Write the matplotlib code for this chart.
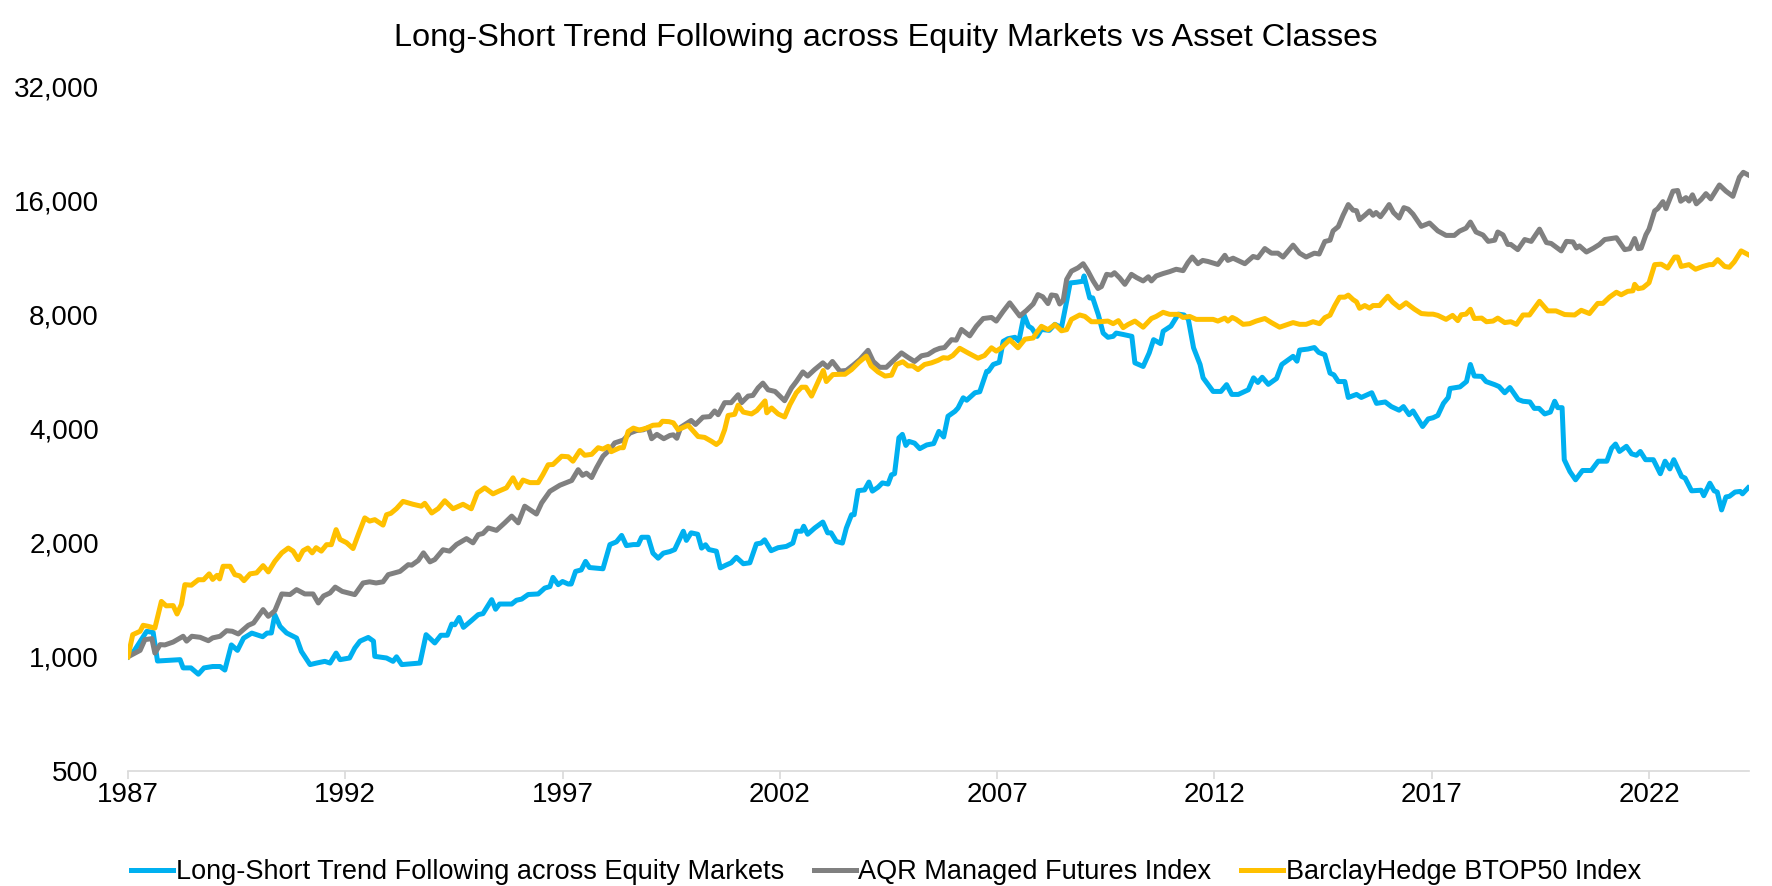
import matplotlib
matplotlib.use("Agg")
import matplotlib.pyplot as plt
import matplotlib.ticker as mticker

plt.rcParams["font.family"] = ["Liberation Sans", "DejaVu Sans"]

# Growth of 1,000 (decimal years)
trend_years = [
    1987.00, 1987.15, 1987.43, 1987.58, 1987.68, 1988.20, 1988.27, 1988.45, 1988.62, 1988.75,
    1988.95, 1989.12, 1989.23, 1989.38, 1989.52, 1989.66, 1989.85, 1990.10, 1990.20, 1990.30,
    1990.38, 1990.50, 1990.65, 1990.88, 1990.99, 1991.19, 1991.34, 1991.53, 1991.65, 1991.79,
    1991.88, 1992.10, 1992.22, 1992.34, 1992.53, 1992.65, 1992.68, 1992.95, 1993.10, 1993.18,
    1993.30, 1993.72, 1993.86, 1994.06, 1994.20, 1994.35, 1994.45, 1994.52, 1994.62, 1994.72,
    1994.90, 1995.06, 1995.17, 1995.37, 1995.46, 1995.55, 1995.83, 1995.94, 1996.06, 1996.21,
    1996.44, 1996.59, 1996.71, 1996.78, 1996.90, 1997.00, 1997.13, 1997.20, 1997.30, 1997.43,
    1997.53, 1997.62, 1997.93, 1998.09, 1998.24, 1998.36, 1998.47, 1998.63, 1998.74, 1998.82,
    1998.97, 1999.08, 1999.20, 1999.32, 1999.47, 1999.58, 1999.78, 1999.85, 1999.96, 2000.11,
    2000.20, 2000.29, 2000.37, 2000.54, 2000.63, 2000.76, 2000.88, 2001.00, 2001.16, 2001.31,
    2001.46, 2001.57, 2001.65, 2001.80, 2001.96, 2002.15, 2002.30, 2002.38, 2002.50, 2002.55,
    2002.64, 2002.80, 2002.99, 2003.10, 2003.18, 2003.30, 2003.44, 2003.53, 2003.65, 2003.71,
    2003.80, 2003.95, 2004.05, 2004.13, 2004.26, 2004.36, 2004.49, 2004.57, 2004.64, 2004.74,
    2004.82, 2004.90, 2004.97, 2005.10, 2005.22, 2005.38, 2005.54, 2005.66, 2005.77, 2005.87,
    2006.03, 2006.10, 2006.22, 2006.30, 2006.49, 2006.60, 2006.76, 2006.80, 2006.91, 2007.05,
    2007.14, 2007.25, 2007.41, 2007.50, 2007.62, 2007.72, 2007.80, 2007.92, 2008.02, 2008.20,
    2008.33, 2008.48, 2008.60, 2008.68, 2008.82, 2008.97, 2009.00, 2009.13, 2009.20, 2009.33,
    2009.44, 2009.55, 2009.67, 2009.74, 2009.90, 2010.10, 2010.17, 2010.36, 2010.50, 2010.60,
    2010.76, 2010.82, 2011.00, 2011.17, 2011.30, 2011.40, 2011.52, 2011.67, 2011.74, 2011.97,
    2012.15, 2012.28, 2012.40, 2012.55, 2012.78, 2012.90, 2013.00, 2013.10, 2013.24, 2013.43,
    2013.55, 2013.70, 2013.81, 2013.90, 2013.96, 2014.15, 2014.30, 2014.40, 2014.54, 2014.66,
    2014.75, 2014.85, 2015.00, 2015.08, 2015.27, 2015.38, 2015.62, 2015.73, 2015.93, 2016.07,
    2016.25, 2016.35, 2016.48, 2016.57, 2016.79, 2016.92, 2017.03, 2017.14, 2017.27, 2017.38,
    2017.42, 2017.65, 2017.80, 2017.89, 2017.98, 2018.15, 2018.25, 2018.45, 2018.55, 2018.68,
    2018.80, 2018.99, 2019.10, 2019.26, 2019.36, 2019.47, 2019.60, 2019.73, 2019.83, 2019.90,
    2020.00, 2020.05, 2020.18, 2020.31, 2020.47, 2020.67, 2020.83, 2021.03, 2021.14, 2021.23,
    2021.32, 2021.48, 2021.60, 2021.71, 2021.80, 2021.92, 2022.10, 2022.26, 2022.37, 2022.48,
    2022.57, 2022.75, 2022.83, 2022.98, 2023.20, 2023.26, 2023.40, 2023.50, 2023.57, 2023.67,
    2023.77, 2023.85, 2023.98, 2024.10, 2024.15, 2024.28,
]
trend_values = [
    1000, 1040, 1167, 1160, 975, 983, 935, 935, 900, 935,
    943, 943, 923, 1075, 1040, 1120, 1155, 1130, 1155, 1156,
    1290, 1203, 1156, 1121, 1034, 954, 963, 973, 963, 1023,
    983, 993, 1055, 1100, 1125, 1100, 1003, 993, 973, 1000,
    954, 963, 1144, 1088, 1140, 1140, 1220, 1215, 1270, 1196,
    1245, 1292, 1300, 1415, 1335, 1378, 1378, 1410, 1420, 1460,
    1465, 1518, 1532, 1620, 1550, 1580, 1556, 1556, 1680, 1695,
    1785, 1720, 1707, 1977, 2010, 2090, 1965, 1977, 1977, 2067,
    2067, 1877, 1820, 1877, 1895, 1918, 2144, 2028, 2123, 2105,
    1935, 1975, 1918, 1899, 1716, 1745, 1770, 1830, 1760, 1770,
    1985, 1995, 2035, 1905, 1940, 1955, 1995, 2144, 2144, 2210,
    2105, 2185, 2267, 2123, 2123, 2015, 1995, 2185, 2370, 2370,
    2743, 2755, 2890, 2735, 2800, 2875, 2855, 3020, 3040, 3780,
    3860, 3610, 3700, 3660, 3540, 3620, 3650, 3930, 3800, 4310,
    4440, 4530, 4820, 4750, 4970, 5000, 5660, 5660, 5900, 5980,
    6790, 6900, 6960, 6800, 7970, 7450, 7350, 7000, 7300, 7260,
    7530, 7380, 8660, 9680, 9720, 9780, 10100, 8840, 8840, 7970,
    7140, 6960, 7000, 7140, 7080, 7000, 5960, 5830, 6330, 6860,
    6700, 7220, 7450, 8010, 7970, 7760, 6530, 5900, 5440, 5010,
    5010, 5220, 4920, 4920, 5060, 5440, 5290, 5460, 5230, 5420,
    5900, 6070, 6200, 6020, 6440, 6480, 6540, 6350, 6260, 5600,
    5540, 5320, 5320, 4830, 4920, 4830, 4970, 4660, 4700, 4570,
    4470, 4570, 4350, 4450, 4050, 4240, 4270, 4330, 4660, 4830,
    5100, 5150, 5320, 5900, 5500, 5490, 5320, 5220, 5160, 4970,
    5130, 4770, 4720, 4700, 4520, 4520, 4370, 4420, 4720, 4540,
    4540, 3310, 3080, 2930, 3100, 3100, 3280, 3280, 3550, 3640,
    3480, 3590, 3430, 3400, 3480, 3310, 3310, 3040, 3280, 3130,
    3310, 2990, 2960, 2740, 2750, 2660, 2870, 2740, 2720, 2440,
    2640, 2650, 2720, 2730, 2690, 2790,
]

aqr_years = [
    1987.00, 1987.28, 1987.39, 1987.55, 1987.62, 1987.74, 1987.85, 1988.04, 1988.27, 1988.35,
    1988.47, 1988.66, 1988.85, 1988.95, 1989.12, 1989.27, 1989.40, 1989.54, 1989.77, 1989.89,
    1990.11, 1990.23, 1990.38, 1990.54, 1990.73, 1990.88, 1991.07, 1991.26, 1991.38, 1991.50,
    1991.65, 1991.77, 1991.93, 1992.22, 1992.41, 1992.56, 1992.71, 1992.87, 1992.99, 1993.26,
    1993.45, 1993.53, 1993.68, 1993.80, 1993.95, 1994.06, 1994.25, 1994.40, 1994.56, 1994.79,
    1994.94, 1995.06, 1995.17, 1995.29, 1995.48, 1995.67, 1995.83, 1995.98, 1996.13, 1996.40,
    1996.52, 1996.71, 1996.94, 1997.21, 1997.36, 1997.46, 1997.55, 1997.67, 1997.78, 1997.93,
    1998.09, 1998.20, 1998.40, 1998.55, 1998.70, 1998.86, 1998.97, 1999.05, 1999.17, 1999.33,
    1999.47, 1999.55, 1999.63, 1999.72, 1999.96, 2000.06, 2000.23, 2000.39, 2000.50, 2000.58,
    2000.73, 2000.88, 2001.04, 2001.12, 2001.27, 2001.38, 2001.50, 2001.61, 2001.73, 2001.89,
    2002.11, 2002.27, 2002.38, 2002.53, 2002.64, 2002.80, 2002.99, 2003.10, 2003.21, 2003.38,
    2003.53, 2003.69, 2003.84, 2004.03, 2004.15, 2004.30, 2004.45, 2004.64, 2004.80, 2004.95,
    2005.10, 2005.26, 2005.41, 2005.56, 2005.68, 2005.79, 2005.95, 2006.06, 2006.18, 2006.37,
    2006.52, 2006.68, 2006.87, 2006.98, 2007.14, 2007.29, 2007.41, 2007.52, 2007.67, 2007.83,
    2007.94, 2008.05, 2008.17, 2008.25, 2008.36, 2008.44, 2008.52, 2008.60, 2008.71, 2008.86,
    2008.98, 2009.09, 2009.21, 2009.32, 2009.40, 2009.52, 2009.63, 2009.70, 2009.82, 2009.94,
    2010.09, 2010.21, 2010.36, 2010.48, 2010.55, 2010.66, 2010.82, 2010.97, 2011.12, 2011.28,
    2011.39, 2011.49, 2011.62, 2011.73, 2011.85, 2012.08, 2012.24, 2012.31, 2012.43, 2012.70,
    2012.89, 2013.00, 2013.16, 2013.31, 2013.46, 2013.58, 2013.81, 2013.96, 2014.11, 2014.30,
    2014.41, 2014.54, 2014.66, 2014.73, 2014.85, 2014.96, 2015.08, 2015.19, 2015.27, 2015.34,
    2015.46, 2015.57, 2015.65, 2015.72, 2015.82, 2015.92, 2016.02, 2016.12, 2016.25, 2016.36,
    2016.46, 2016.57, 2016.76, 2016.95, 2017.14, 2017.33, 2017.52, 2017.64, 2017.79, 2017.89,
    2018.02, 2018.18, 2018.30, 2018.45, 2018.52, 2018.64, 2018.75, 2018.82, 2018.98, 2019.14,
    2019.29, 2019.48, 2019.64, 2019.75, 2019.98, 2020.10, 2020.25, 2020.33, 2020.40, 2020.56,
    2020.72, 2020.86, 2020.98, 2021.25, 2021.44, 2021.56, 2021.67, 2021.75, 2021.82, 2021.93,
    2022.00, 2022.13, 2022.20, 2022.32, 2022.39, 2022.55, 2022.66, 2022.73, 2022.85, 2022.92,
    2023.00, 2023.09, 2023.20, 2023.31, 2023.42, 2023.62, 2023.77, 2023.93, 2024.08, 2024.17,
    2024.28,
]
aqr_values = [
    1000, 1040, 1110, 1117, 1023, 1077, 1075, 1094, 1133, 1100,
    1133, 1126, 1103, 1122, 1133, 1172, 1168, 1149, 1211, 1228,
    1332, 1279, 1323, 1465, 1460, 1504, 1465, 1465, 1387, 1447,
    1474, 1527, 1488, 1459, 1566, 1577, 1566, 1577, 1647, 1680,
    1750, 1745, 1795, 1880, 1780, 1805, 1916, 1900, 1978, 2050,
    1998, 2100, 2115, 2187, 2155, 2256, 2350, 2256, 2496, 2380,
    2547, 2733, 2835, 2917, 3115, 3010, 3050, 2970, 3150, 3380,
    3520, 3665, 3730, 3890, 3950, 3970, 4020, 3760, 3860, 3760,
    3835, 3850, 3770, 4030, 4200, 4100, 4285, 4300, 4450, 4350,
    4680, 4680, 4910, 4680, 4870, 4890, 5120, 5270, 5060, 5010,
    4735, 5120, 5320, 5640, 5500, 5720, 5960, 5800, 6010, 5670,
    5690, 5880, 6080, 6430, 6010, 5800, 5800, 6080, 6330, 6160,
    6010, 6220, 6270, 6430, 6510, 6540, 6860, 6840, 7300, 7020,
    7440, 7800, 7850, 7680, 8150, 8580, 8230, 7920, 8180, 8520,
    9020, 8900, 8540, 9000, 8960, 8520, 8700, 9890, 10400, 10610,
    10880, 10400, 9800, 9360, 9470, 10200, 10150, 10300, 9980, 9600,
    10200, 10000, 9800, 10050, 9800, 10100, 10250, 10370, 10520, 10430,
    10950, 11330, 10880, 11100, 11030, 10830, 11450, 11100, 11250, 10880,
    11370, 11280, 11930, 11600, 11600, 11330, 12180, 11600, 11330, 11600,
    11540, 12450, 12550, 13280, 13630, 14600, 15580, 15060, 15010, 14220,
    14600, 14990, 14600, 14850, 14470, 14990, 15580, 14850, 14360, 15290,
    15150, 14700, 13650, 13930, 13280, 12920, 12920, 13260, 13500, 14010,
    13190, 12950, 12460, 12550, 13190, 12960, 12230, 12230, 11850, 12600,
    12460, 13420, 12370, 12300, 11760, 12460, 12420, 11970, 12120, 11680,
    11950, 12230, 12600, 12740, 11850, 11920, 12680, 11920, 11960, 12980,
    13420, 14990, 15200, 15860, 15200, 16900, 16970, 15900, 16250, 15920,
    16530, 15650, 16070, 16650, 16130, 17550, 16900, 16380, 18390, 18950,
    18660,
]

btop_years = [
    1987.00, 1987.11, 1987.28, 1987.35, 1987.46, 1987.62, 1987.77, 1987.88, 1988.04, 1988.13,
    1988.23, 1988.31, 1988.46, 1988.62, 1988.74, 1988.87, 1988.95, 1989.05, 1989.11, 1989.19,
    1989.35, 1989.46, 1989.57, 1989.67, 1989.81, 1989.96, 1990.11, 1990.23, 1990.38, 1990.54,
    1990.69, 1990.80, 1990.92, 1991.03, 1991.14, 1991.24, 1991.33, 1991.45, 1991.57, 1991.68,
    1991.79, 1991.88, 1992.03, 1992.18, 1992.30, 1992.45, 1992.56, 1992.68, 1992.87, 1992.95,
    1993.05, 1993.18, 1993.33, 1993.56, 1993.75, 1993.83, 1993.99, 1994.14, 1994.29, 1994.48,
    1994.71, 1994.90, 1995.04, 1995.21, 1995.40, 1995.55, 1995.71, 1995.86, 1995.98, 1996.09,
    1996.25, 1996.44, 1996.55, 1996.67, 1996.78, 1996.98, 1997.13, 1997.24, 1997.40, 1997.51,
    1997.67, 1997.82, 1997.93, 1998.05, 1998.12, 1998.32, 1998.40, 1998.51, 1998.63, 1998.77,
    1998.93, 1999.08, 1999.23, 1999.30, 1999.45, 1999.55, 1999.66, 1999.89, 2000.12, 2000.27,
    2000.43, 2000.54, 2000.63, 2000.73, 2000.81, 2000.96, 2001.04, 2001.16, 2001.35, 2001.47,
    2001.66, 2001.70, 2001.81, 2001.96, 2002.11, 2002.23, 2002.38, 2002.50, 2002.60, 2002.73,
    2002.85, 2003.00, 2003.07, 2003.22, 2003.41, 2003.50, 2003.65, 2003.82, 2003.99, 2004.10,
    2004.26, 2004.42, 2004.57, 2004.68, 2004.83, 2004.95, 2005.06, 2005.18, 2005.33, 2005.49,
    2005.64, 2005.76, 2005.87, 2005.98, 2006.14, 2006.33, 2006.56, 2006.71, 2006.87, 2006.98,
    2007.10, 2007.29, 2007.48, 2007.64, 2007.83, 2007.94, 2008.02, 2008.17, 2008.33, 2008.48,
    2008.60, 2008.71, 2008.90, 2009.02, 2009.17, 2009.36, 2009.55, 2009.67, 2009.79, 2009.90,
    2010.01, 2010.17, 2010.36, 2010.55, 2010.66, 2010.82, 2010.97, 2011.17, 2011.28, 2011.43,
    2011.58, 2011.85, 2011.97, 2012.08, 2012.24, 2012.31, 2012.41, 2012.50, 2012.66, 2012.81,
    2012.96, 2013.16, 2013.31, 2013.50, 2013.69, 2013.81, 2013.96, 2014.11, 2014.27, 2014.42,
    2014.54, 2014.66, 2014.77, 2014.88, 2015.00, 2015.08, 2015.19, 2015.27, 2015.34, 2015.46,
    2015.57, 2015.65, 2015.80, 2015.88, 2015.99, 2016.10, 2016.26, 2016.41, 2016.60, 2016.76,
    2016.92, 2017.03, 2017.14, 2017.33, 2017.48, 2017.60, 2017.68, 2017.79, 2017.89, 2017.98,
    2018.15, 2018.26, 2018.41, 2018.52, 2018.68, 2018.82, 2018.95, 2019.10, 2019.25, 2019.48,
    2019.67, 2019.86, 2020.06, 2020.29, 2020.44, 2020.63, 2020.82, 2020.94, 2021.09, 2021.25,
    2021.36, 2021.51, 2021.63, 2021.67, 2021.75, 2021.86, 2022.00, 2022.13, 2022.28, 2022.43,
    2022.59, 2022.66, 2022.74, 2022.92, 2023.07, 2023.24, 2023.39, 2023.47, 2023.58, 2023.74,
    2023.85, 2023.96, 2024.12, 2024.28,
]
btop_values = [
    1000, 1144, 1168, 1211, 1204, 1191, 1400, 1363, 1365, 1297,
    1375, 1550, 1545, 1597, 1597, 1655, 1600, 1640, 1605, 1733,
    1733, 1647, 1635, 1588, 1655, 1665, 1740, 1675, 1786, 1880,
    1936, 1900, 1804, 1905, 1936, 1880, 1940, 1900, 1976, 1976,
    2165, 2040, 2000, 1930, 2100, 2325, 2280, 2300, 2225, 2370,
    2390, 2460, 2570, 2525, 2496, 2540, 2395, 2460, 2580, 2457,
    2525, 2457, 2705, 2790, 2690, 2740, 2790, 2965, 2790, 2925,
    2880, 2880, 3025, 3210, 3215, 3380, 3370, 3280, 3500, 3400,
    3420, 3560, 3530, 3590, 3475, 3560, 3560, 3930, 4010, 3960,
    4010, 4080, 4090, 4180, 4170, 4140, 3970, 4080, 3810, 3790,
    3700, 3630, 3700, 3970, 4330, 4360, 4610, 4420, 4370, 4460,
    4730, 4400, 4530, 4370, 4290, 4620, 4970, 5140, 5140, 4870,
    5220, 5690, 5320, 5550, 5560, 5560, 5720, 5980, 6210, 5850,
    5640, 5500, 5530, 5900, 6000, 5850, 5850, 5720, 5900, 5960,
    6050, 6150, 6130, 6230, 6510, 6330, 6130, 6230, 6530, 6400,
    6530, 6860, 6530, 6880, 6930, 7240, 7440, 7290, 7520, 7240,
    7290, 7760, 7970, 7900, 7650, 7650, 7680, 7560, 7700, 7380,
    7520, 7680, 7400, 7800, 7900, 8100, 8000, 8000, 7850, 7900,
    7760, 7760, 7760, 7680, 7820, 7680, 7850, 7760, 7530, 7560,
    7680, 7800, 7610, 7400, 7530, 7610, 7530, 7530, 7650, 7560,
    7840, 7960, 8440, 8880, 8880, 8990, 8750, 8630, 8300, 8440,
    8310, 8440, 8440, 8650, 8930, 8620, 8330, 8580, 8260, 8040,
    8010, 8010, 7950, 7760, 7950, 7700, 7980, 8010, 8250, 7800,
    7820, 7650, 7680, 7820, 7610, 7650, 7530, 7970, 7970, 8660,
    8170, 8170, 7990, 7970, 8200, 8040, 8550, 8550, 8880, 9150,
    9010, 9200, 9230, 9600, 9350, 9400, 9690, 10820, 10850, 10600,
    11330, 11330, 10700, 10820, 10520, 10700, 10820, 10820, 11150, 10700,
    10650, 11000, 11760, 11500,
]

year_ticks = [1987, 1992, 1997, 2002, 2007, 2012, 2017, 2022]
year_labels = ["1987", "1992", "1997", "2002", "2007", "2012", "2017", "2022"]
value_ticks = [500, 1000, 2000, 4000, 8000, 16000, 32000]

fig = plt.figure(figsize=(17.72, 8.86), dpi=100)
ax = fig.add_axes([0.0722, 0.1298, 0.9148, 0.7731])

ax.plot(trend_years, trend_values, color="#00B0F0", lw=3.6,
        label="Long-Short Trend Following across Equity Markets")
ax.plot(aqr_years, aqr_values, color="#808080", lw=3.6,
        label="AQR Managed Futures Index")
ax.plot(btop_years, btop_values, color="#FFC000", lw=3.6,
        label="BarclayHedge BTOP50 Index")

ax.set_yscale("log", base=2)
ax.set_ylim(500, 32000)
ax.set_xlim(1987, 2024.3)

ax.yaxis.set_major_locator(mticker.FixedLocator(value_ticks))
ax.yaxis.set_major_formatter(mticker.FuncFormatter(lambda v, _: f"{int(round(v)):,}"))
ax.yaxis.set_minor_locator(mticker.NullLocator())
ax.set_xticks(year_ticks)
ax.set_xticklabels(year_labels)

for pos in ["top", "right", "left"]:
    ax.spines[pos].set_visible(False)
ax.spines["bottom"].set_color("#D9D9D9")
ax.spines["bottom"].set_linewidth(1.2)

ax.tick_params(axis="y", length=0, pad=21, labelsize=20)
ax.tick_params(axis="x", length=5.5, width=1.2, color="#D9D9D9", pad=2.5, labelsize=20)

fig.text(0.5, 1 - 38 / 886, "Long-Short Trend Following across Equity Markets vs Asset Classes",
         ha="center", va="center", fontsize=23.4)

fig.legend(loc="center", bbox_to_anchor=(0.5, 1 - 872 / 886), ncol=3, frameon=False,
           fontsize=19.5, handlelength=1.55, handletextpad=0.1, columnspacing=1.1,
           borderpad=0.1)

fig.savefig("out.png", dpi=100)
